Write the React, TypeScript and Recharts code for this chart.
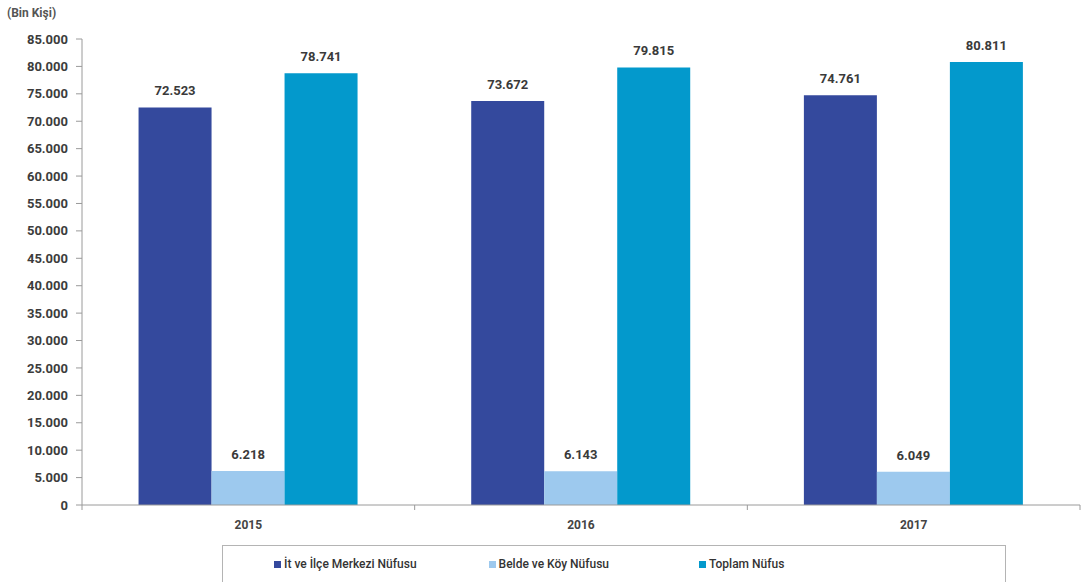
import { BarChart, Bar, XAxis, YAxis, Legend, LabelList } from 'recharts'

const years = ['2015', '2016', '2017']
const merkez = [72523, 73672, 74761]
const belde = [6218, 6143, 6049]
const toplam = [78741, 79815, 80811]
const yTicks = [0, 5000, 10000, 15000, 20000, 25000, 30000, 35000, 40000, 45000, 50000, 55000, 60000, 65000, 70000, 75000, 80000, 85000]

const seriesNames = ['İt ve İlçe Merkezi Nüfusu', 'Belde ve Köy Nüfusu', 'Toplam Nüfus']
const colors = ['#34499d', '#9dc9ee', '#0399cc']

const data = years.map((y, i) => ({
  year: y,
  merkez: merkez[i],
  belde: belde[i],
  toplam: toplam[i],
}))

const font = 'Roboto, "Liberation Sans", sans-serif'
const fmt = (v: number) => v.toLocaleString('de-DE')

// year label at the band centre, small tick marks on the band edges
function YearTick({ x, y, payload, index, visibleTicksCount }: any) {
  const half = payload.offset ?? 0
  const last = index === visibleTicksCount - 1
  return (
    <g>
      <line x1={x - half} x2={x - half} y1={y} y2={y + 5} stroke="#9a9a9a" />
      {last && <line x1={x + half} x2={x + half} y1={y} y2={y + 5} stroke="#9a9a9a" />}
      <text x={x} y={y + 24} textAnchor="middle" fontSize={12} fontWeight={700} fill="#444" fontFamily={font}>
        {payload.value}
      </text>
    </g>
  )
}

function LegendBox() {
  return (
    <div style={{
      boxSizing: 'border-box',
      width: '100%',
      height: '100%',
      border: '1px solid #b4b4b4',
      display: 'flex',
      alignItems: 'center',
      fontFamily: font,
      fontSize: 12,
      fontWeight: 500,
      color: '#333',
      paddingLeft: 51,
    }}>
      {seriesNames.map((n, i) => (
        <span key={n} style={{ display: 'inline-flex', alignItems: 'center', marginRight: [72, 90, 0][i] }}>
          <span style={{ width: 7, height: 7, background: colors[i], marginRight: 3 }} />
          {n}
        </span>
      ))}
    </div>
  )
}

export default function App() {
  return (
    <div style={{ position: 'absolute', left: 0, top: 0, width: 1085, height: 582, background: '#fff', overflow: 'hidden' }}>
      <div style={{ position: 'absolute', left: 7, top: 6, fontFamily: font, fontWeight: 700, fontSize: 12, color: '#555' }}>
        (Bin Kişi)
      </div>
      <BarChart
        width={1085}
        height={582}
        data={data}
        margin={{ top: 39, right: 5, left: 0, bottom: 47 }}
        barCategoryGap="17%"
        barGap={0}
      >
        <XAxis
          dataKey="year"
          axisLine={{ stroke: '#9a9a9a' }}
          tickLine={false}
          tickSize={0}
          tickMargin={0}
          tick={<YearTick />}
          interval={0}
          height={30}
        />
        <YAxis
          width={82}
          domain={[0, 85000]}
          ticks={yTicks}
          interval={0}
          tickFormatter={fmt}
          axisLine={{ stroke: '#9a9a9a' }}
          tickLine={{ stroke: '#9a9a9a' }}
          tickMargin={8}
          tick={{ fontSize: 13, fontWeight: 700, fill: '#3c3c3c', fontFamily: font }}
        />
        <Legend
          verticalAlign="middle"
          align="center"
          content={() => <LegendBox />}
          wrapperStyle={{ left: 222, top: 545, width: 784, height: 38 }}
        />
        {(['merkez', 'belde', 'toplam'] as const).map((k, i) => (
          <Bar key={k} dataKey={k} name={seriesNames[i]} fill={colors[i]} isAnimationActive={false}>
            <LabelList
              dataKey={k}
              position="top"
              offset={12}
              formatter={(v: any) => fmt(Number(v))}
              style={{ fontSize: 13, fontWeight: 700, fill: '#3a3a3a', fontFamily: font }}
            />
          </Bar>
        ))}
      </BarChart>
    </div>
  )
}
